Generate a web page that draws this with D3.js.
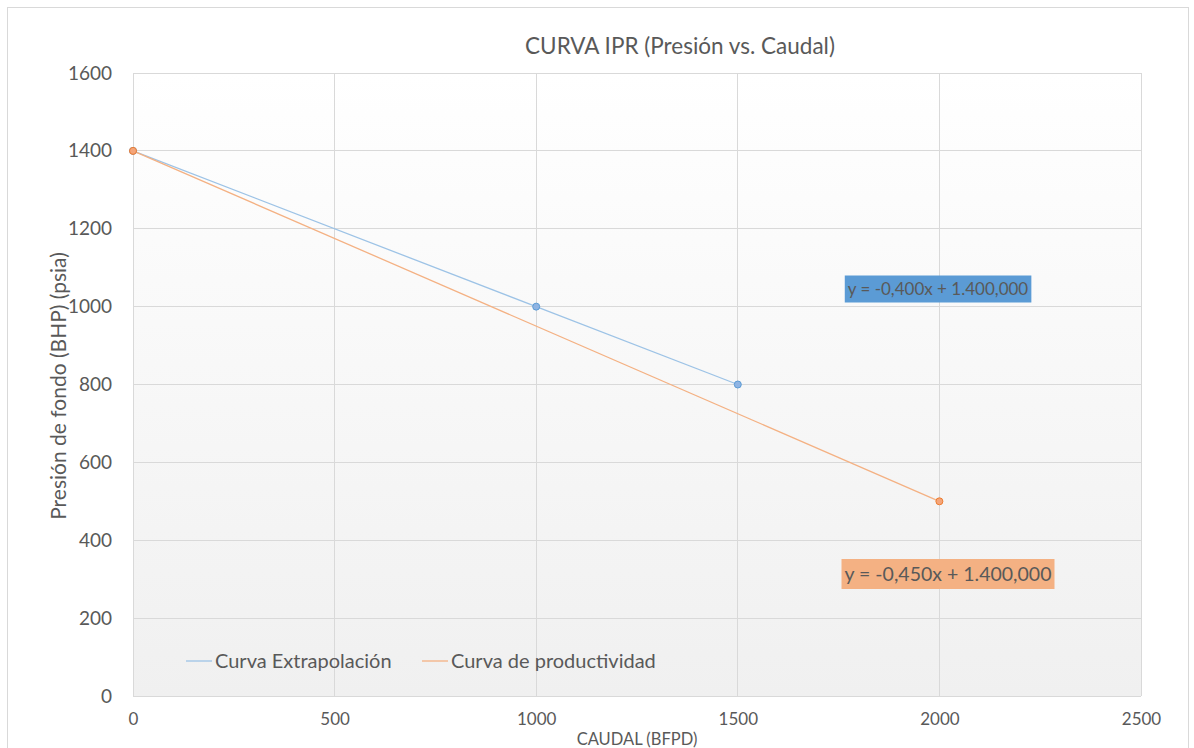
<!DOCTYPE html>
<html>
<head>
<meta charset="utf-8">
<script src="https://cdn.jsdelivr.net/npm/d3@7"></script>
<style>
  body { margin: 0; background: #fff; }
  text { font-family: Lato, "Open Sans", sans-serif; fill: #595959; }
</style>
</head>
<body>
<div id="chart"></div>
<script>
// curva IPR - presion vs caudal
var extrapX = [0, 1000, 1500];
var extrapY = [1400, 1000, 800];
var prodX = [0, 2000];
var prodY = [1400, 500];
var xTicks = [0, 500, 1000, 1500, 2000, 2500];
var yTicks = [0, 200, 400, 600, 800, 1000, 1200, 1400, 1600];
var eqExtrap = "y = -0,400x + 1.400,000";
var eqProd = "y = -0,450x + 1.400,000";

var W = 1194, H = 748;
var margin = { left: 133, right: 53, top: 73, bottom: 52 };

var svg = d3.select("#chart").append("svg")
  .attr("width", W).attr("height", H);

// outer frame
svg.append("rect")
  .attr("x", 7.5).attr("y", 7.5)
  .attr("width", 1181).attr("height", 760)
  .attr("fill", "none").attr("stroke", "#d9d9d9");

var width = W - margin.left - margin.right;
var height = H - margin.top - margin.bottom;

var defs = svg.append("defs");
var grad = defs.append("linearGradient").attr("id", "bg")
  .attr("x1", 0).attr("y1", 0).attr("x2", 0).attr("y2", 1);
grad.append("stop").attr("offset", "0%").attr("stop-color", "#ffffff");
grad.append("stop").attr("offset", "100%").attr("stop-color", "#f0f0f0");

var g = svg.append("g")
  .attr("transform", "translate(" + margin.left + "," + margin.top + ")");

var x = d3.scaleLinear().domain([0, 2500]).range([0, width]);
var y = d3.scaleLinear().domain([0, 1600]).range([height, 0]);

g.append("rect").attr("width", width).attr("height", height).attr("fill", "url(#bg)");

// grid
g.selectAll(".vg").data(xTicks).enter().append("line")
  .attr("x1", function(d){ return x(d); }).attr("x2", function(d){ return x(d); })
  .attr("y1", 0).attr("y2", height)
  .attr("stroke", "#d9d9d9").attr("stroke-width", 1).attr("shape-rendering", "crispEdges");
g.selectAll(".hg").data(yTicks).enter().append("line")
  .attr("x1", 0).attr("x2", width)
  .attr("y1", function(d){ return y(d); }).attr("y2", function(d){ return y(d); })
  .attr("stroke", "#d9d9d9").attr("stroke-width", 1).attr("shape-rendering", "crispEdges");

var xAxis = d3.axisBottom(x).tickValues(xTicks).tickFormat(d3.format("d")).tickSize(0).tickPadding(17);
var yAxis = d3.axisLeft(y).tickValues(yTicks).tickFormat(d3.format("d")).tickSize(0).tickPadding(21);

g.append("g").attr("transform", "translate(0," + height + ")").call(xAxis)
  .call(function(s){ s.select(".domain").remove(); })
  .selectAll("text").style("font-size", "17px").attr("fill", "#595959");
g.append("g").call(yAxis)
  .call(function(s){ s.select(".domain").remove(); })
  .selectAll("text").style("font-size", "19px").attr("fill", "#595959");

// lines
var line = d3.line()
  .x(function(d){ return x(d[0]); })
  .y(function(d){ return y(d[1]); });

var extrap = d3.zip(extrapX, extrapY);
var prod = d3.zip(prodX, prodY);

g.append("path").datum(extrap).attr("d", line)
  .attr("fill", "none").attr("stroke", "#9dc3e6").attr("stroke-width", 1.3);
g.append("path").datum(prod).attr("d", line)
  .attr("fill", "none").attr("stroke", "#f4b183").attr("stroke-width", 1.3);

g.selectAll(".pe").data(extrap).enter().append("circle")
  .attr("cx", function(d){ return x(d[0]); }).attr("cy", function(d){ return y(d[1]); })
  .attr("r", 3.5).attr("fill", "#8fb4e3").attr("stroke", "#5b9bd5").attr("stroke-width", 1);
g.selectAll(".pp").data(prod).enter().append("circle")
  .attr("cx", function(d){ return x(d[0]); }).attr("cy", function(d){ return y(d[1]); })
  .attr("r", 3.5).attr("fill", "#f4a57a").attr("stroke", "#ed7d31").attr("stroke-width", 1);

// equation labels
function eqLabel(txt, cx, cy, h, size, fill) {
  var t = svg.append("text").attr("x", cx).attr("y", cy)
    .attr("text-anchor", "middle").attr("dy", "0.35em")
    .style("font-size", size + "px").text(txt);
  var b = t.node().getBBox();
  svg.insert("rect", function(){ return t.node(); })
    .attr("x", b.x - 3).attr("y", cy - h / 2)
    .attr("width", b.width + 6).attr("height", h)
    .attr("fill", fill);
}
eqLabel(eqExtrap, 938, 289, 27, 17, "#5b9bd5");
eqLabel(eqProd, 948, 574, 30, 19.5, "#f4b183");

// title and axis titles
svg.append("text").attr("x", 680).attr("y", 54).attr("text-anchor", "middle")
  .style("font-size", "22.5px").text("CURVA IPR (Presión vs. Caudal)");
svg.append("text").attr("transform", "translate(66,386) rotate(-90)")
  .attr("text-anchor", "middle").style("font-size", "21px")
  .text("Presión de fondo (BHP) (psia)");
svg.append("text").attr("x", 637).attr("y", 745).attr("text-anchor", "middle")
  .style("font-size", "16.5px").text("CAUDAL (BFPD)");

// legend
var legend = [["Curva Extrapolación", "#9dc3e6", 186], ["Curva de productividad", "#f4b183", 422]];
legend.forEach(function(l){
  svg.append("line").attr("x1", l[2]).attr("x2", l[2] + 26)
    .attr("y1", 661).attr("y2", 661).attr("stroke", l[1]).attr("stroke-width", 1.3);
  svg.append("text").attr("x", l[2] + 29).attr("y", 661).attr("dy", "0.35em")
    .style("font-size", "20px").text(l[0]);
});
</script>
</body>
</html>
